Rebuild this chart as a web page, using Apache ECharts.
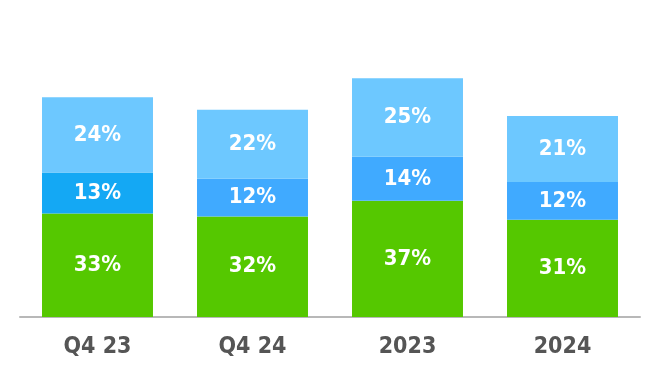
<!DOCTYPE html>
<html>
<head>
<meta charset="utf-8">
<script src="https://cdn.jsdelivr.net/npm/echarts@6/dist/echarts.min.js"></script>
<style>html,body{margin:0;padding:0;background:#fff}#c{width:660px;height:384px}</style>
</head>
<body>
<div id="c"></div>
<script>
var categories = ['Q4 23', 'Q4 24', '2023', '2024'];
var greenValues = [33, 32, 37, 31];
var blueValues = [13, 12, 14, 12];
var lightValues = [24, 22, 25, 21];
var blueColors = ['#14A8F4', '#40AAFF', '#40AAFF', '#40AAFF'];

var labelStyle = {
  show: true,
  position: 'inside',
  color: '#ffffff',
  fontFamily: 'DejaVu Sans Condensed',
  fontSize: 22,
  fontWeight: 'bold',
  formatter: function (p) { return p.value + '%'; }
};

var chart = echarts.init(document.getElementById('c'), null, {renderer: 'canvas'});
chart.setOption({
  animation: false,
  grid: {left: 20, right: 20, top: 3, bottom: 67},
  xAxis: {
    type: 'category',
    data: categories,
    axisLine: {lineStyle: {color: '#b8b8b8', width: 2}},
    axisTick: {show: false},
    axisLabel: {
      color: '#555555',
      fontFamily: 'DejaVu Sans Condensed',
      fontWeight: 'bold',
      fontSize: 23,
      margin: 19
    }
  },
  yAxis: {type: 'value', min: 0, max: 100, show: false, splitLine: {show: false}},
  series: [
    {type: 'bar', stack: 't', data: greenValues, barWidth: '71.6%',
     itemStyle: {color: '#55C800'}, label: labelStyle},
    {type: 'bar', stack: 't', data: blueValues.map(function (v, i) { return {value: v, itemStyle: {color: blueColors[i]}}; }),
     label: labelStyle},
    {type: 'bar', stack: 't', data: lightValues,
     itemStyle: {color: '#6DC8FF'}, label: labelStyle}
  ]
});
</script>
</body>
</html>
